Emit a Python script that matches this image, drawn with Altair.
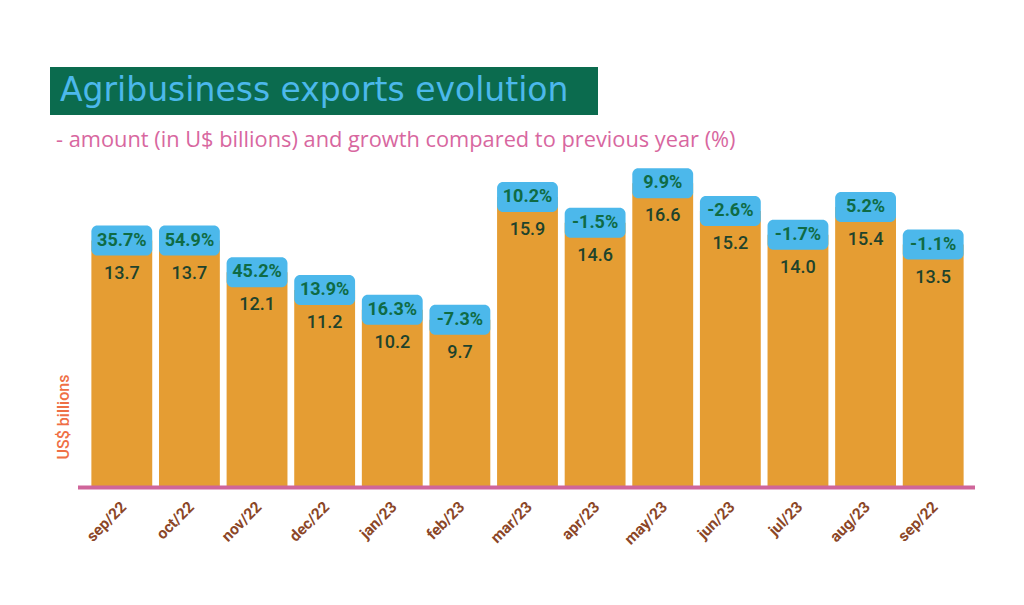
import altair as alt
import pandas as pd

months = ["sep/22", "oct/22", "nov/22", "dec/22", "jan/23", "feb/23", "mar/23",
          "apr/23", "may/23", "jun/23", "jul/23", "aug/23", "sep/22"]
amount = [13.7, 13.7, 12.1, 11.2, 10.2, 9.7, 15.9, 14.6, 16.6, 15.2, 14.0, 15.4, 13.5]
growth = [35.7, 54.9, 45.2, 13.9, 16.3, -7.3, 10.2, -1.5, 9.9, -2.6, -1.7, 5.2, -1.1]

title_text = "Agribusiness exports evolution"
subtitle_text = "- amount (in U$ billions) and growth compared to previous year (%)"
ytitle_text = "US$ billions"

df = pd.DataFrame({"idx": list(range(len(months))), "month": months,
                   "amount": amount, "growth": growth})

W, H = 879, 356
YMIN, YMAX = 2, 20
CAP_PX = 30
cap_units = CAP_PX * (YMAX - YMIN) / H

ORANGE = "#E59D33"
BLUE = "#4CB8EB"
GREEN_TXT = "#0F6B45"
VAL_TXT = "#1E432C"

label_expr = "[" + ",".join("'%s'" % m for m in months) + "][datum.value]"

xenc = alt.X("idx:O", scale=alt.Scale(paddingInner=0.1, paddingOuter=0.05),
             axis=alt.Axis(title=None, labelExpr=label_expr, labelAngle=-45,
                           labelAlign="right", labelBaseline="middle",
                           labelPadding=17, labelOffset=2, labelColor="#8B4627",
                           labelFont="Roboto", labelFontSize=15.5,
                           labelFontWeight="bold", ticks=False, domain=False,
                           grid=False))
yscale = alt.Scale(domain=[YMIN, YMAX], zero=False, nice=False)

base = alt.Chart(df).transform_calculate(
    cap="datum.amount + %f" % cap_units,
    mid="datum.amount + %f" % (cap_units / 2),
    floor="%f" % YMIN,
    glabel="replace(format(datum.growth, '.1f'), '\u2212', '-') + '%'",
)

bars = base.mark_bar(color=ORANGE).encode(
    x=xenc,
    y=alt.Y("mid:Q", scale=yscale, axis=None),
    y2="floor:Q",
)
caps = base.mark_bar(color=BLUE, cornerRadius=6).encode(
    x=xenc,
    y=alt.Y("cap:Q", scale=yscale, axis=None),
    y2="amount:Q",
)
gtext = base.mark_text(font="Roboto", fontSize=18, fontWeight="bold",
                       color=GREEN_TXT, baseline="middle", dy=-15).encode(
    x=xenc, y=alt.Y("amount:Q", scale=yscale, axis=None), text="glabel:N")
vtext = base.mark_text(font="Roboto", fontSize=18, fontWeight=500,
                       color=VAL_TXT, baseline="middle", dy=18).encode(
    x=xenc, y=alt.Y("amount:Q", scale=yscale, axis=None),
    text=alt.Text("amount:Q", format=".1f"))

one = alt.Chart(pd.DataFrame({"t": [title_text], "s": [subtitle_text], "y": [ytitle_text]}))
baseline = one.mark_rule(color="#CF659A", strokeWidth=4).encode(
    x=alt.value(-10), x2=alt.value(887), y=alt.value(H + 0.5))
tbox = one.mark_rect(color="#0B6B4E").encode(
    x=alt.value(-38), x2=alt.value(510), y=alt.value(-64), y2=alt.value(-16))
ttext = one.mark_text(font="DejaVu Sans", fontSize=33, color=BLUE,
                      align="left", baseline="middle").encode(
    x=alt.value(-28), y=alt.value(-40), text="t:N")
stext = one.mark_text(font="Open Sans", fontSize=21.8, fontWeight=400, color="#D8679F",
                      align="left", baseline="middle").encode(
    x=alt.value(-32), y=alt.value(9), text="s:N")
ytext = one.mark_text(font="Roboto", fontSize=16, fontWeight=500, color="#EF6F45",
                      angle=270, baseline="middle").encode(
    x=alt.value(-24), y=alt.value(286), text="y:N")

chart = alt.layer(bars, caps, gtext, vtext, baseline, tbox, ttext, stext, ytext).properties(
    width=W, height=H,
    autosize=alt.AutoSizeParams(type="none"),
    padding={"left": 80, "top": 123, "right": 49, "bottom": 110},
    background="white",
).configure_view(stroke=None)

chart.save("out.html", embed_options={"renderer": "svg", "actions": False})
